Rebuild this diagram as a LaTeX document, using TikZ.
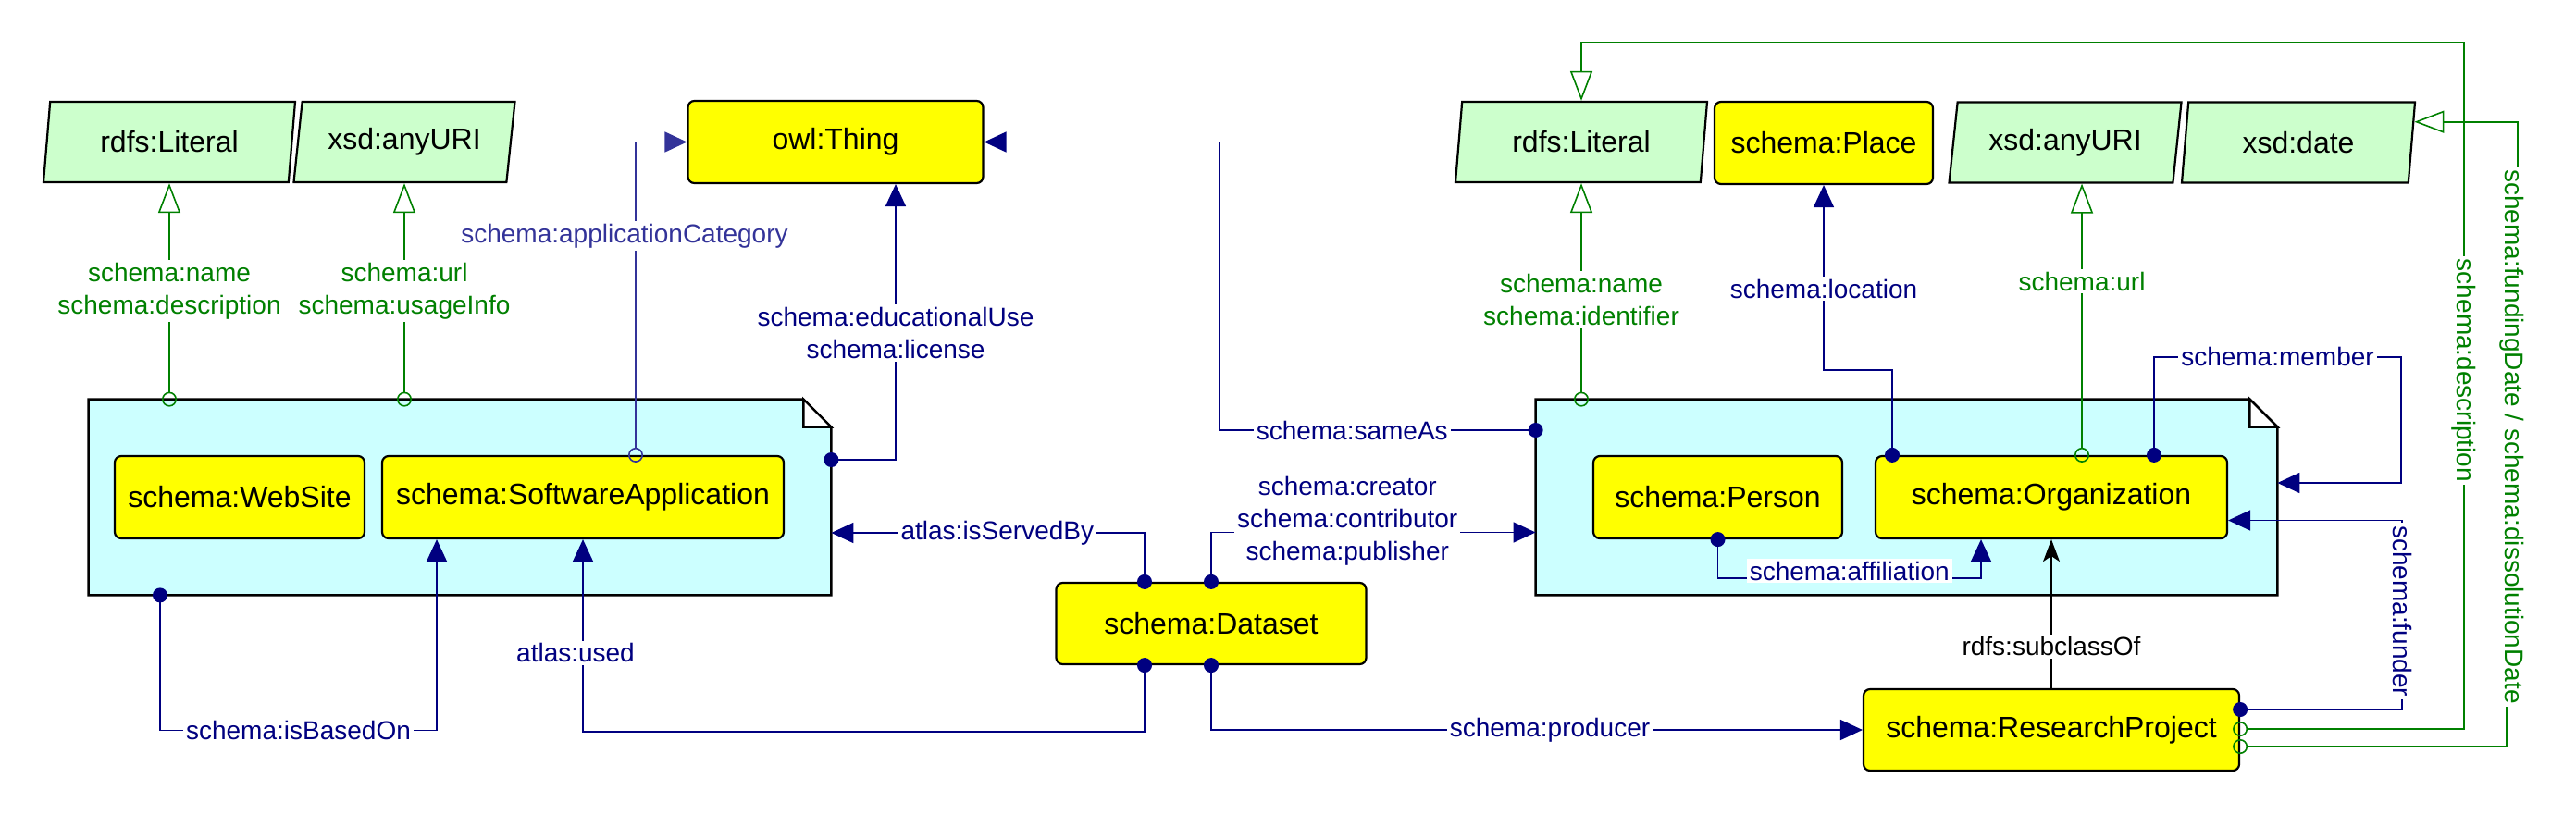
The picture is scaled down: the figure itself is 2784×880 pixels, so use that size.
\documentclass[tikz,border=0pt]{standalone}
\usepackage{fontspec}
\setmainfont{Liberation Sans}
\usepackage{xcolor}
\usetikzlibrary{arrows.meta,shapes.geometric,calc}

\definecolor{classyellow}{HTML}{FFFF00}
\definecolor{literalgreen}{HTML}{CCFFCC}
\definecolor{groupcyan}{HTML}{CCFFFF}
\definecolor{propnavy}{HTML}{000080}
\definecolor{catblue}{HTML}{333399}
\definecolor{datagreen}{HTML}{008000}

\begin{document}
\begin{tikzpicture}[x=0.5pt,y=-0.5pt]
\tikzset{class/.style={draw,line width=1.1pt,fill=classyellow,rounded corners=3.5pt,minimum height=44.5pt,inner sep=0pt,font=\fontsize{16}{19}\selectfont}}
\tikzset{literal/.style={trapezium,trapezium left angle=73,trapezium right angle=107,trapezium stretches body=true,draw,line width=1.1pt,fill=literalgreen,minimum height=43.5pt,inner sep=0pt,font=\fontsize{16}{19}\selectfont}}
\tikzset{group/.style={minimum height=105.5pt,inner sep=0pt}}
\tikzset{lbl/.style={fill=white,inner sep=1.5pt,align=center,font=\fontsize{14}{17.5}\selectfont}}
\tikzset{objprop/.style={color=propnavy,line width=0.8pt,{Circle[length=8pt]}-{Triangle[length=12pt,width=11pt]},shorten <=-4pt}}
\tikzset{dataprop/.style={color=datagreen,line width=0.8pt,{Circle[open,length=8pt]}-{Triangle[open,length=16pt,width=12pt]},shorten <=-4pt}}

\useasboundingbox (0,0) rectangle (2784,880);

% groups
\node[group,minimum width=401pt] (grpA) at (497,537.5) {};
\node[group,minimum width=400.5pt] (grpB) at (2060.5,537.5) {};
\foreach \g in {grpA,grpB} {
  \filldraw[fill=groupcyan,line width=1.2pt] (\g.north west) -- ($(\g.north east)+(-30,0)$) -- ($(\g.north east)+(0,30)$) |- (\g.south west) -- cycle;
  \filldraw[fill=white,line width=1.2pt] ($(\g.north east)+(-30,0)$) |- ($(\g.north east)+(0,30)$) -- cycle;
}

% classes
\node[class,minimum width=159.5pt] (thing) at (903,153.5) {owl:Thing};
\node[class,minimum width=135pt] (web) at (259,537.5) {schema:WebSite};
\node[class,minimum width=217pt] (soft) at (630,537.5) {schema:SoftwareApplication};
\node[class,minimum width=167.5pt,minimum height=44pt] (dataset) at (1309,674) {schema:Dataset};
\node[class,minimum width=134.5pt] (person) at (1856.5,537.5) {schema:Person};
\node[class,minimum width=190pt] (org) at (2217,537.5) {schema:Organization};
\node[class,minimum width=203pt,minimum height=44pt] (rp) at (2217,789) {schema:ResearchProject};
\node[class,minimum width=118pt] (place) at (1971,154.5) {schema:Place};

% literals
\node[literal,minimum width=136pt] (litA) at (183,153.5) {rdfs:Literal};
\node[literal,minimum width=119.5pt] (uriA) at (437,153.5) {xsd:anyURI};
\node[literal,minimum width=136pt] (litB) at (1709,153.5) {rdfs:Literal};
\node[literal,minimum width=125.5pt] (uriB) at (2232,154) {xsd:anyURI};
\node[literal,minimum width=126pt] (date) at (2484,154) {xsd:date};
\coordinate (dateP) at ($(date.top right corner)!0.25!(date.bottom right corner)$);

% left group
\draw[dataprop] (litA.south |- grpA.north) -- node[lbl] {schema:name\\schema:description} (litA.south);
\draw[dataprop] (uriA.south |- grpA.north) -- node[lbl] {schema:url\\schema:usageInfo} (uriA.south);
\draw[objprop,color=catblue,{Circle[open,length=8pt]}-{Triangle[length=12pt,width=11pt]}] ($(soft.north)+(57,0)$) |- node[lbl,pos=0.35,xshift=-6pt] {schema:applicationCategory} (thing.west);
\draw[objprop] ($(grpA.east)+(0,-40.5)$) -| node[lbl,pos=0.73] {schema:educationalUse\\schema:license} ($(thing.south)+(65,0)$);
\draw[objprop] ($(grpA.south)+(-324,0)$) -- ++(0,146) -| node[lbl,pos=0.25] {schema:isBasedOn} ($(soft.south)+(-158,0)$);

% dataset
\draw[objprop] ($(dataset.north)+(-72,0)$) |- node[lbl,pos=0.735] {atlas:isServedBy} ($(grpA.east)+(0,38.5)$);
\draw[objprop] (dataset.north) |- node[lbl,pos=0.71,yshift=6pt] {schema:creator\\schema:contributor\\schema:publisher} ($(grpB.west)+(0,38)$);
\draw[objprop] ($(dataset.south)+(-72,0)$) -- ++(0,72) -| node[lbl,pos=0.705,xshift=-4pt] {atlas:used} (soft.south);
\draw[objprop] (dataset.south) |- node[lbl,pos=0.76] {schema:producer} (rp.west);
\draw[objprop] ($(grpB.west)+(0,-72.5)$) -- node[lbl,pos=0.58] {schema:sameAs} ++(-342,0) |- (thing.east);

% right group
\draw[dataprop] (litB.south |- grpB.north) -- node[lbl,pos=0.46] {schema:name\\schema:identifier} (litB.south);
\draw[objprop] ($(org.north)+(-172,0)$) -- ++(0,-92) -| node[lbl,pos=0.72] {schema:location} (place.south);
\draw[dataprop] ($(org.north)+(33,0)$) -- node[lbl,pos=0.64] {schema:url} ($(uriB.south)+(18,0)$);
\draw[objprop] ($(org.north)+(111,0)$) -- ++(0,-106) -- node[lbl] {schema:member} ++(267,0) |- ($(grpB.east)+(0,-15.5)$);
\draw[objprop] (person.south) -- ++(0,42) -| node[lbl,pos=0.25,yshift=4pt] {schema:affiliation} ($(org.south)+(-76,0)$);
\draw[line width=0.8pt,-{Stealth[length=12pt,width=9pt,inset=3pt]}] (rp.north) -- node[lbl,pos=0.28] {rdfs:subclassOf} (org.south);

% research project
\draw[objprop] ($(rp.east)+(0,-22)$) -- ++(175,0) |- node[lbl,pos=0.26,rotate=-90] {schema:funder} ($(org.east)+(0,25)$);
\draw[dataprop] ($(rp.east)+(0,-1)$) -- ++(242,0) |- node[lbl,pos=0.255,rotate=-90,xshift=-4.5pt] {schema:description} ($(litB.north)+(0,-63)$) -- (litB.north);
\draw[dataprop] ($(rp.east)+(0,18)$) -- ++(288,0) -- ++(0,-335) -- node[lbl,rotate=-90] {schema:fundingDate / schema:dissolutionDate} ++(12,0) |- (dateP);

\end{tikzpicture}
\end{document}
